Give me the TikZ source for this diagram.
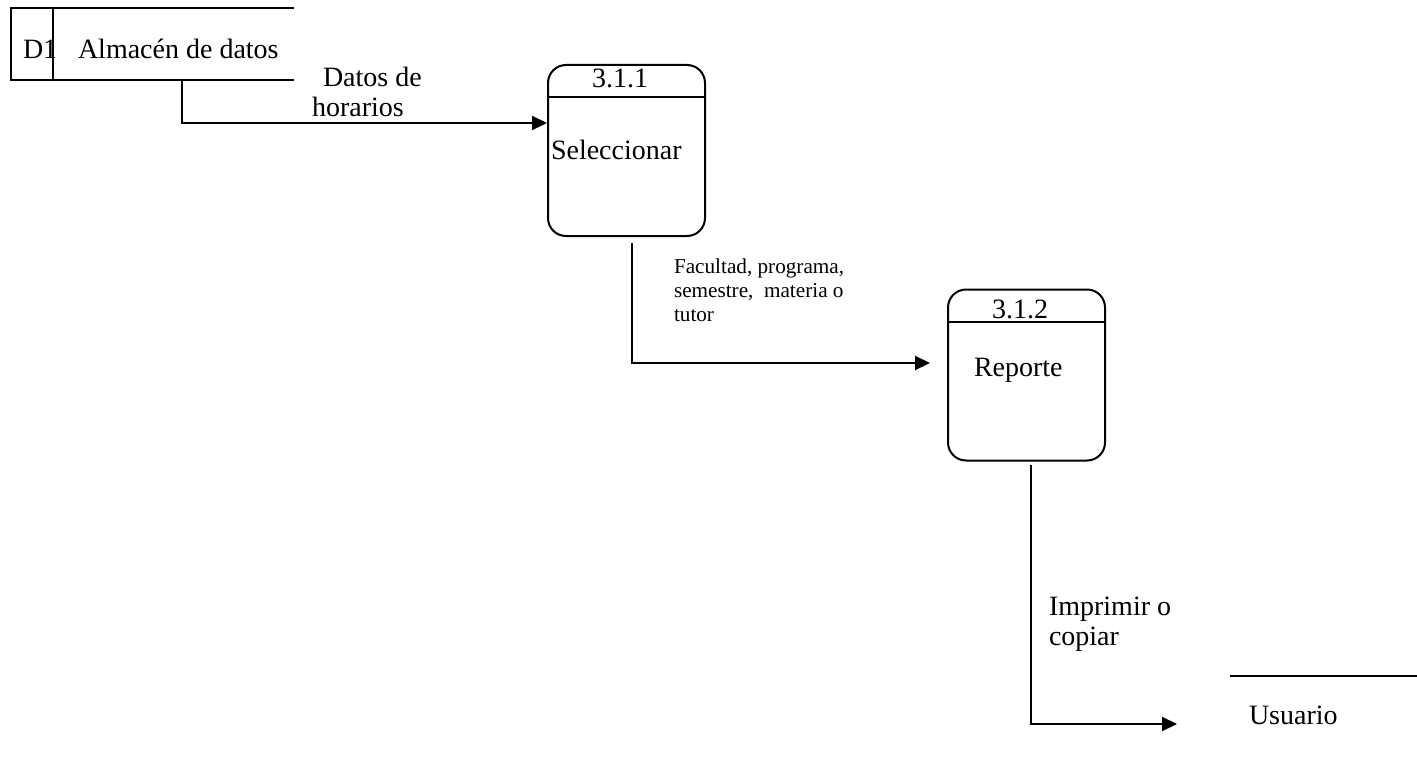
\documentclass[tikz,border=0pt]{standalone}
\usepackage{fontspec}
\setmainfont{Liberation Serif}
\usetikzlibrary{arrows.meta,positioning}
\tikzset{
  proc/.style={draw, line width=1pt, rounded corners=9pt, minimum width=78.5pt, minimum height=85.5pt, inner sep=0pt},
  flow/.style={line width=1pt, -{Triangle[length=7.5pt,width=7pt]}},
  lbl/.style={inner sep=0pt, anchor=base west, font=\fontsize{14}{15}\selectfont, align=left},
  smalllbl/.style={inner sep=0pt, anchor=base west, font=\fontsize{10.6}{12}\selectfont, align=left},
}
\begin{document}
\begin{tikzpicture}[x=0.5pt, y=-0.5pt, line width=1pt]
    \useasboundingbox (0,0) rectangle (1417,770);
    % almacen de datos
    \node[minimum width=140.5pt, minimum height=34.75pt, inner sep=0pt] (store) at (152.5,44.25) {};
    \draw (store.north east) -- (store.north west) -- (store.south west) -- (store.south east);
    \draw ([xshift=20.75pt]store.north west) -- ([xshift=20.75pt]store.south west);
    \node[lbl] (d1) at (22,59) {D1};
    \node[lbl] (storename) at (77,59) {Almacén de datos};
    % procesos
    \node[proc] (p1) at (626.5,150.5) {};
    \draw (p1.west |- 0,97.5) -- (p1.east |- 0,97.5);
    \node[lbl, anchor=base] (p1num) at (620,88) {3.1.1};
    \node[lbl] (p1name) at (550,160) {Seleccionar};
    \node[proc] (p2) at (1026.5,375) {};
    \draw (p2.west |- 0,321.5) -- (p2.east |- 0,321.5);
    \node[lbl, anchor=base] (p2num) at (1020,318) {3.1.2};
    \node[lbl] (p2name) at (973,376) {Reporte};
    % entidad externa
    \draw (1230,676) -- (1417,676);
    \node[lbl] (usr) at (1248,724) {Usuario};
    % flujos
    \draw[flow] (store.south -| 182,0) |- (p1.west |- 0,123);
    \node[lbl] (f1) at (311,117) {\hspace*{5.5pt}Datos de\\horarios};
    \draw[flow] ([yshift=-3pt]p1.south -| 632,0) |- ([xshift=-8.5pt]p2.west |- 0,363);
    \node[smalllbl] (f2) at (673,321) {Facultad, programa,\\semestre,\ \ materia o\\tutor};
    \draw[flow] ([yshift=-1.5pt]p2.south -| 1031,0) |- ([xshift=-35.5pt]usr.base west);
    \node[lbl] (f3) at (1048,645) {Imprimir o\\copiar};
\end{tikzpicture}
\end{document}
